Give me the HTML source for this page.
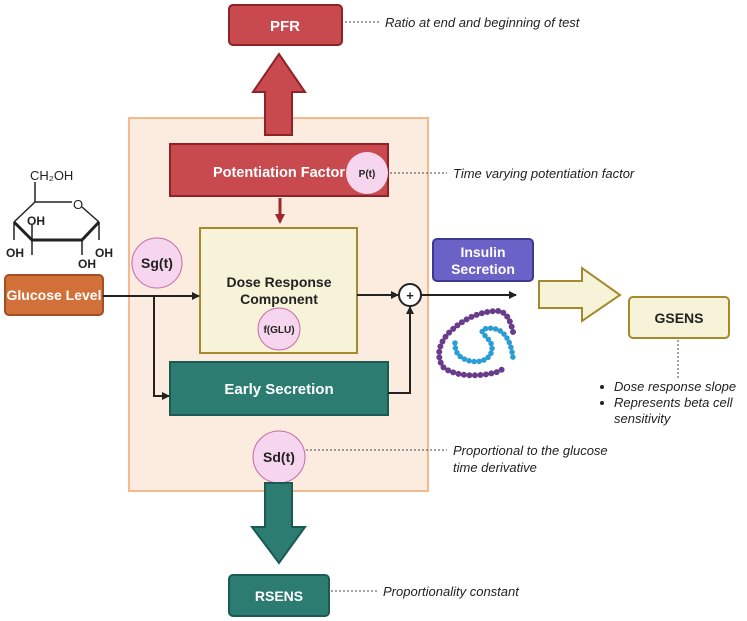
<!DOCTYPE html>
<html><head><meta charset="utf-8"><style>
body{margin:0;background:#fff}
svg{display:block;font-family:"Liberation Sans",sans-serif}
.w{fill:#fff;font-weight:bold;text-anchor:middle}
.i{font-style:italic;font-size:13px;fill:#222}
.d{stroke:#444;stroke-width:1;stroke-dasharray:2,2;fill:none}
</style></head><body>
<svg width="747" height="621" viewBox="0 0 747 621">
<defs><marker id="a" markerWidth="8" markerHeight="8" refX="7" refY="4" orient="auto" markerUnits="userSpaceOnUse"><path d="M0,0 L8,4 L0,8 z" fill="#222"/></marker>
<marker id="r" markerWidth="10" markerHeight="10" refX="8" refY="5" orient="auto" markerUnits="userSpaceOnUse"><path d="M0,0 L10,5 L0,10 z" fill="#9b2a2e"/></marker></defs>
<rect x="129" y="118" width="299" height="373" fill="#fbecdf" stroke="#f4b98f" stroke-width="2"/>
<!-- PFR -->
<rect x="229" y="5" width="113" height="40" rx="4" fill="#c94a4e" stroke="#8e2226" stroke-width="2"/>
<text x="285" y="31" class="w" font-size="15">PFR</text>
<line x1="345" y1="22" x2="380" y2="22" class="d"/>
<text x="385" y="27" class="i">Ratio at end and beginning of test</text>
<path d="M265,135 V92 H253 L279,54 L305,92 H292 V135 Z" fill="#c94a4e" stroke="#8e2226" stroke-width="2"/>
<!-- Potentiation -->
<rect x="170" y="144" width="218" height="52" fill="#c94a4e" stroke="#8e2226" stroke-width="2"/>
<text x="279" y="177" class="w" font-size="14.5">Potentiation Factor</text>
<circle cx="367" cy="173" r="21" fill="#f6d6ef"/>
<text x="367" y="177" font-size="10" font-weight="bold" text-anchor="middle" fill="#222">P(t)</text>
<line x1="390" y1="173" x2="447" y2="173" class="d"/>
<text x="453" y="178" class="i">Time varying potentiation factor</text>
<line x1="280" y1="198" x2="280" y2="222" stroke="#9b2a2e" stroke-width="3" marker-end="url(#r)"/>
<!-- Dose -->
<rect x="200" y="228" width="157" height="125" fill="#f6f3d8" stroke="#a38a2c" stroke-width="2"/>
<text x="279" y="287" font-size="14" font-weight="bold" text-anchor="middle" fill="#222">Dose Response</text>
<text x="279" y="304" font-size="14" font-weight="bold" text-anchor="middle" fill="#222">Component</text>
<circle cx="279" cy="329" r="21" fill="#f6d6ef" stroke="#c46aa6"/>
<text x="279" y="333" font-size="10" font-weight="bold" text-anchor="middle" fill="#222">f(GLU)</text>
<circle cx="157" cy="263" r="25" fill="#f6d6ef" stroke="#c46aa6"/>
<text x="157" y="268" font-size="14" font-weight="bold" text-anchor="middle" fill="#222">Sg(t)</text>
<!-- Glucose -->
<g stroke="#222" stroke-width="1.5" fill="none">
<path d="M35,202 L72,202 M35,202 L14,222 M35,202 L35,182 M82,207 L99,222 M14,222 L14,240 M99,222 L99,240"/>
<path d="M14,222 L32,240 L82,240 L99,222" stroke-width="3"/>
<path d="M32,240 L32,255 M82,240 L82,255 M32,240 L32,225"/>
</g>
<text x="30" y="180" font-size="13" fill="#222">CH₂OH</text>
<text x="73" y="209" font-size="13" fill="#222">O</text>
<text x="27" y="225" font-size="12" font-weight="bold" fill="#222">OH</text>
<text x="6" y="257" font-size="12" font-weight="bold" fill="#222">OH</text>
<text x="95" y="257" font-size="12" font-weight="bold" fill="#222">OH</text>
<text x="78" y="268" font-size="12" font-weight="bold" fill="#222">OH</text>
<rect x="5" y="275" width="98" height="40" rx="4" fill="#d2703a" stroke="#a34f22" stroke-width="2"/>
<text x="54" y="300" class="w" font-size="14">Glucose Level</text>
<line x1="103" y1="296" x2="199" y2="296" stroke="#222" stroke-width="2" marker-end="url(#a)"/>
<path d="M154,296 V396 H169" stroke="#222" stroke-width="2" fill="none" marker-end="url(#a)"/>
<!-- Early -->
<rect x="170" y="362" width="218" height="53" fill="#2c7c72" stroke="#1a5a52" stroke-width="2"/>
<text x="279" y="394" class="w" font-size="15">Early Secretion</text>
<path d="M388,393 H410 V307" stroke="#222" stroke-width="2" fill="none" marker-end="url(#a)"/>
<line x1="357" y1="295" x2="398" y2="295" stroke="#222" stroke-width="2" marker-end="url(#a)"/>
<circle cx="410" cy="295" r="11" fill="#fff" stroke="#222" stroke-width="2"/>
<text x="410" y="300" font-size="13" font-weight="bold" text-anchor="middle" fill="#222">+</text>
<line x1="421" y1="295" x2="516" y2="295" stroke="#222" stroke-width="2" marker-end="url(#a)"/>
<rect x="433" y="239" width="100" height="42" rx="4" fill="#6b62c8" stroke="#3f3890" stroke-width="2"/>
<text x="483" y="257" class="w" font-size="14">Insulin</text>
<text x="483" y="274" class="w" font-size="14">Secretion</text>
<!-- insulin chains -->
<path d="M513,332 C510,318 505,310 495,311 C480,312 465,318 452,330 C440,340 435,355 443,367 C455,377 480,377 497,372 L505,368" stroke="#6a3c8c" stroke-width="6" fill="none" stroke-linecap="round" stroke-dasharray="0,5.5"/>
<path d="M455,343 C455,352 458,358 470,361 C480,363 490,360 492,350 C493,340 484,337 482,331 C484,327 497,327 503,333 C510,340 512,350 513,358" stroke="#2a9dd4" stroke-width="5.5" fill="none" stroke-linecap="round" stroke-dasharray="0,5"/>
<path d="M539,281 H582 V268 L620,295 L582,321 V308 H539 Z" fill="#f6f3d8" stroke="#a38a2c" stroke-width="2"/>
<rect x="629" y="297" width="100" height="41" rx="4" fill="#f6f3d8" stroke="#a38a2c" stroke-width="2"/>
<text x="679" y="323" font-size="14" font-weight="bold" text-anchor="middle" fill="#222">GSENS</text>
<line x1="678" y1="340" x2="678" y2="380" class="d"/>
<circle cx="602" cy="387" r="2" fill="#222"/><circle cx="602" cy="403" r="2" fill="#222"/>
<text x="614" y="391" class="i">Dose response slope</text>
<text x="614" y="407" class="i">Represents beta cell</text>
<text x="614" y="423" class="i">sensitivity</text>
<!-- Sd -->
<circle cx="279" cy="457" r="26" fill="#f6d6ef" stroke="#c46aa6"/>
<text x="279" y="462" font-size="14" font-weight="bold" text-anchor="middle" fill="#222">Sd(t)</text>
<line x1="306" y1="450" x2="447" y2="450" class="d"/>
<text x="453" y="455" class="i">Proportional to the glucose</text>
<text x="453" y="472" class="i">time derivative</text>
<path d="M265,483 V527 H252 L279,563 L305,527 H292 V483 Z" fill="#2c7c72" stroke="#1a5a52" stroke-width="2"/>
<rect x="229" y="575" width="100" height="41" rx="4" fill="#2c7c72" stroke="#1a5a52" stroke-width="2"/>
<text x="279" y="601" class="w" font-size="14">RSENS</text>
<line x1="331" y1="591" x2="377" y2="591" class="d"/>
<text x="383" y="596" class="i">Proportionality constant</text>
</svg>
</body></html>
